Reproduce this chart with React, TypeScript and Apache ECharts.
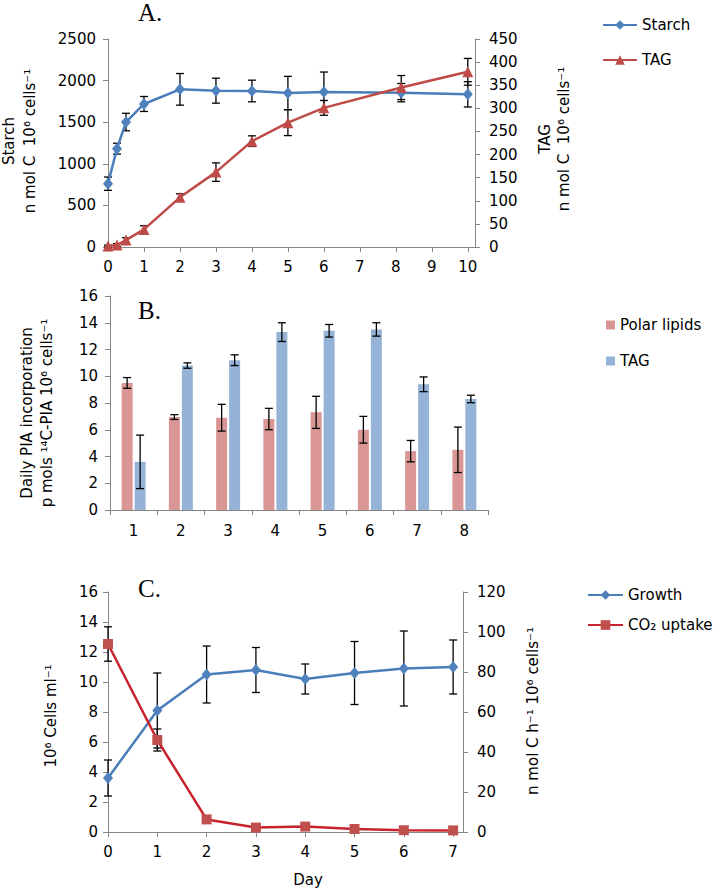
import React, { useEffect, useRef } from "react";
import * as echarts from "echarts";

// ---------- Panel A: Starch & TAG over days ----------
const starchDays = [0, 0.25, 0.5, 1, 2, 3, 4, 5, 6, 8.15, 10];
const starchValues = [761, 1182, 1502, 1719, 1895, 1879, 1875, 1851, 1863, 1855, 1835];
const starchErrors = [80, 65, 105, 90, 190, 150, 130, 200, 240, 110, 152];
const tagValues = [2, 4.3, 15, 38, 107.5, 162, 229, 269, 301, 345, 379];
const tagErrors = [2, 3, 5, 8, 7.5, 20, 11.5, 28, 16, 26, 29];

// ---------- Panel B: Daily PIA incorporation ----------
const piaDays = ["1", "2", "3", "4", "5", "6", "7", "8"];
const polarLipids = [9.5, 6.95, 6.9, 6.8, 7.3, 6.0, 4.4, 4.5];
const polarErrors = [0.4, 0.18, 1.0, 0.8, 1.2, 1.0, 0.8, 1.7];
const tagPia = [3.6, 10.8, 11.2, 13.3, 13.4, 13.5, 9.4, 8.3];
const tagPiaErrors = [2.0, 0.2, 0.4, 0.7, 0.47, 0.5, 0.55, 0.28];

// ---------- Panel C: Growth & CO2 uptake ----------
const growthDays = [0, 1, 2, 3, 4, 5, 6, 7];
const growth = [3.6, 8.1, 10.5, 10.8, 10.2, 10.6, 10.9, 11.0];
const growthErrors = [1.2, 2.5, 1.9, 1.5, 1.0, 2.1, 2.5, 1.8];
const co2Uptake = [94, 46, 6.3, 2.2, 2.7, 1.5, 0.9, 0.8];
const co2Errors = [8.6, 5.5, 0, 0, 0, 0, 0, 0];

const legendLabels: Record<string, string> = {
  starch: "Starch",
  tagA: "TAG",
  polar: "Polar lipids",
  tagB: "TAG",
  growth: "Growth",
  co2: "CO\u2082 uptake",
};

const FONT = "DejaVu Sans";
const AXIS_COLOR = "#868686";
const BLUE_LINE = "#4a7ebb";
const BLUE_MARK = "#4f81bd";
const RED = "#be4b48";
const RED_LINE_C = "#c8232c";
const RED_MARK_C = "#c0504d";
const BAR_RED = "#d99694";
const BAR_BLUE = "#95b3d7";

function errorBar(offset: number, capHalf: number) {
  return (params: any, api: any) => {
    const x = api.value(0);
    const lo = api.value(1);
    const hi = api.value(2);
    if (!(hi - lo > 0)) return null;
    const top = api.coord([x, hi]);
    const bot = api.coord([x, lo]);
    const cx = top[0] + offset;
    const style = { stroke: "#000", lineWidth: 1.3 };
    return {
      type: "group",
      children: [
        { type: "line", shape: { x1: cx, y1: top[1], x2: cx, y2: bot[1] }, style },
        { type: "line", shape: { x1: cx - capHalf, y1: top[1], x2: cx + capHalf, y2: top[1] }, style },
        { type: "line", shape: { x1: cx - capHalf, y1: bot[1], x2: cx + capHalf, y2: bot[1] }, style },
      ],
    };
  };
}

const axisLine = { show: true, lineStyle: { color: AXIS_COLOR, width: 1 } };
const axisTick = { show: true, inside: false, length: 5, lineStyle: { color: AXIS_COLOR, width: 1 } };
const plain = (v: number) => String(v);
const labelStyle = { color: "#000", fontFamily: FONT, fontSize: 15, formatter: plain };
const noSplit = { show: false };

function rotText(text: string, x: number, y: number) {
  return {
    type: "text",
    x,
    y,
    rotation: Math.PI / 2,
    style: {
      text,
      fontFamily: FONT,
      fontSize: 15,
      fill: "#000",
      align: "center",
      verticalAlign: "middle",
    },
  };
}

function panelTitle(text: string, x: number, y: number) {
  return {
    type: "text",
    x,
    y,
    style: {
      text,
      fontFamily: "Liberation Serif",
      fontSize: 25,
      fill: "#000",
      align: "left",
      verticalAlign: "middle",
    },
  };
}

export default function App() {
  const ref = useRef<HTMLDivElement>(null);

  useEffect(() => {
    if (!ref.current) return;
    const chart = echarts.init(ref.current, undefined, { renderer: "svg" });

    const lineLegend = (names: string[], left: number, top: number, gap: number, width: number) => ({
      data: names,
      orient: "vertical",
      left,
      top,
      padding: 0,
      itemWidth: width,
      itemHeight: 12,
      itemGap: gap,
      formatter: (n: string) => legendLabels[n],
      textStyle: { color: "#000", fontFamily: FONT, fontSize: 15 },
    });

    const option: any = {
      animation: false,
      backgroundColor: "#fff",
      grid: [
        { left: 108, top: 39, width: 367, height: 208 },
        { left: 110, top: 296, width: 378, height: 214 },
        { left: 108, top: 592, width: 355, height: 240 },
      ],
      legend: [
        lineLegend(["starch", "tagA"], 602, 17.5, 20, 34),
        {
          data: ["polar", "tagB"],
          orient: "vertical",
          left: 606,
          top: 317.5,
          padding: 0,
          icon: "rect",
          itemWidth: 9,
          itemHeight: 9,
          itemGap: 21,
          formatter: (n: string) => legendLabels[n],
          textStyle: { color: "#000", fontFamily: FONT, fontSize: 15 },
        },
        lineLegend(["growth", "co2"], 587, 587.5, 15, 35),
      ],
      xAxis: [
        {
          gridIndex: 0,
          type: "value",
          min: 0,
          max: 10.2,
          interval: 1,
          axisLine,
          axisTick,
          axisLabel: { ...labelStyle, margin: 12, showMaxLabel: false },
          splitLine: noSplit,
        },
        {
          gridIndex: 1,
          type: "category",
          data: piaDays,
          axisLine,
          axisTick,
          axisLabel: { color: "#000", fontFamily: FONT, fontSize: 15, margin: 13 },
          splitLine: noSplit,
        },
        {
          gridIndex: 2,
          type: "value",
          min: 0,
          max: 7.2,
          interval: 1,
          axisLine,
          axisTick,
          axisLabel: { ...labelStyle, margin: 12, showMaxLabel: false },
          splitLine: noSplit,
        },
      ],
      yAxis: [
        {
          gridIndex: 0,
          type: "value",
          position: "left",
          min: 0,
          max: 2500,
          interval: 500,
          axisLine,
          axisTick,
          axisLabel: { ...labelStyle, margin: 12 },
          splitLine: noSplit,
        },
        {
          gridIndex: 0,
          type: "value",
          position: "right",
          min: 0,
          max: 450,
          interval: 50,
          axisLine,
          axisTick,
          axisLabel: { ...labelStyle, margin: 14 },
          splitLine: noSplit,
        },
        {
          gridIndex: 1,
          type: "value",
          position: "left",
          min: 0,
          max: 16,
          interval: 2,
          axisLine,
          axisTick,
          axisLabel: { ...labelStyle, margin: 12 },
          splitLine: noSplit,
        },
        {
          gridIndex: 2,
          type: "value",
          position: "left",
          min: 0,
          max: 16,
          interval: 2,
          axisLine,
          axisTick,
          axisLabel: { ...labelStyle, margin: 10 },
          splitLine: noSplit,
        },
        {
          gridIndex: 2,
          type: "value",
          position: "right",
          min: 0,
          max: 120,
          interval: 20,
          axisLine,
          axisTick,
          axisLabel: { ...labelStyle, margin: 14 },
          splitLine: noSplit,
        },
      ],
      series: [
        // Panel A
        {
          type: "custom",
          xAxisIndex: 0,
          yAxisIndex: 0,
          silent: true,
          z: 2,
          data: starchDays.map((d, i) => [d, starchValues[i] - starchErrors[i], starchValues[i] + starchErrors[i]]),
          encode: { x: 0, y: [1, 2] },
          renderItem: errorBar(0, 4),
        },
        {
          type: "custom",
          xAxisIndex: 0,
          yAxisIndex: 1,
          silent: true,
          z: 2,
          data: starchDays.map((d, i) => [d, tagValues[i] - tagErrors[i], tagValues[i] + tagErrors[i]]),
          encode: { x: 0, y: [1, 2] },
          renderItem: errorBar(0, 4),
        },
        {
          name: "starch",
          type: "line",
          xAxisIndex: 0,
          yAxisIndex: 0,
          z: 3,
          data: starchDays.map((d, i) => [d, starchValues[i]]),
          symbol: "diamond",
          symbolSize: [10, 12],
          lineStyle: { color: BLUE_LINE, width: 2.5 },
          itemStyle: { color: BLUE_MARK },
        },
        {
          name: "tagA",
          type: "line",
          xAxisIndex: 0,
          yAxisIndex: 1,
          z: 3,
          data: starchDays.map((d, i) => [d, tagValues[i]]),
          symbol: "triangle",
          symbolSize: 11,
          lineStyle: { color: RED, width: 2.5 },
          itemStyle: { color: RED },
        },
        // Panel B
        {
          name: "polar",
          type: "bar",
          xAxisIndex: 1,
          yAxisIndex: 2,
          data: polarLipids,
          barWidth: 11,
          barGap: "18%",
          itemStyle: { color: BAR_RED },
        },
        {
          name: "tagB",
          type: "bar",
          xAxisIndex: 1,
          yAxisIndex: 2,
          data: tagPia,
          barWidth: 11,
          barGap: "18%",
          itemStyle: { color: BAR_BLUE },
        },
        {
          type: "custom",
          xAxisIndex: 1,
          yAxisIndex: 2,
          silent: true,
          z: 4,
          data: piaDays.map((d, i) => [d, polarLipids[i] - polarErrors[i], polarLipids[i] + polarErrors[i]]),
          encode: { x: 0, y: [1, 2] },
          renderItem: errorBar(-6.5, 4),
        },
        {
          type: "custom",
          xAxisIndex: 1,
          yAxisIndex: 2,
          silent: true,
          z: 4,
          data: piaDays.map((d, i) => [d, tagPia[i] - tagPiaErrors[i], tagPia[i] + tagPiaErrors[i]]),
          encode: { x: 0, y: [1, 2] },
          renderItem: errorBar(6.5, 4),
        },
        // Panel C
        {
          type: "custom",
          xAxisIndex: 2,
          yAxisIndex: 3,
          silent: true,
          z: 2,
          data: growthDays.map((d, i) => [d, growth[i] - growthErrors[i], growth[i] + growthErrors[i]]),
          encode: { x: 0, y: [1, 2] },
          renderItem: errorBar(0, 4),
        },
        {
          type: "custom",
          xAxisIndex: 2,
          yAxisIndex: 4,
          silent: true,
          z: 2,
          data: growthDays.map((d, i) => [d, co2Uptake[i] - co2Errors[i], co2Uptake[i] + co2Errors[i]]),
          encode: { x: 0, y: [1, 2] },
          renderItem: errorBar(0, 4),
        },
        {
          name: "growth",
          type: "line",
          xAxisIndex: 2,
          yAxisIndex: 3,
          z: 3,
          data: growthDays.map((d, i) => [d, growth[i]]),
          symbol: "diamond",
          symbolSize: [10, 12],
          lineStyle: { color: BLUE_LINE, width: 2.5 },
          itemStyle: { color: BLUE_MARK },
        },
        {
          name: "co2",
          type: "line",
          xAxisIndex: 2,
          yAxisIndex: 4,
          z: 3,
          data: growthDays.map((d, i) => [d, co2Uptake[i]]),
          symbol: "rect",
          symbolSize: 10,
          lineStyle: { color: RED_LINE_C, width: 2.5 },
          itemStyle: { color: RED_MARK_C },
        },
      ],
      graphic: [
        panelTitle("A.", 138, 12.6),
        panelTitle("B.", 138, 310),
        panelTitle("C.", 138, 588.6),
        rotText("Starch", 9, 141),
        rotText("n mol C  10\u2076 cells\u207B\u00B9", 30, 141),
        rotText("TAG", 545, 139),
        rotText("n mol C  10\u2076 cells\u207B\u00B9", 564, 139),
        rotText("Daily PIA incorporation", 27, 413),
        rotText("p mols \u00B9\u2074C-PIA 10\u2076 cells\u207B\u00B9", 47, 413),
        rotText("10\u2076 Cells ml\u207B\u00B9", 51, 716),
        rotText("n mol C h\u207B\u00B9 10\u2076 cells\u207B\u00B9", 533, 711),
        {
          type: "text",
          x: 308,
          y: 880,
          style: {
            text: "Day",
            fontFamily: FONT,
            fontSize: 15,
            fill: "#000",
            align: "center",
            verticalAlign: "middle",
          },
        },
      ],
    };

    chart.setOption(option);
    return () => chart.dispose();
  }, []);

  return (
    <div
      ref={ref}
      style={{ position: "absolute", left: 0, top: 0, width: 714, height: 891, background: "#fff" }}
    />
  );
}
